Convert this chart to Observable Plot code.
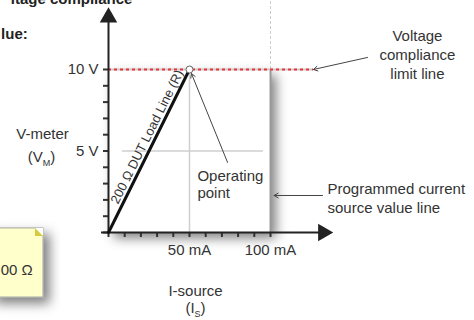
<!DOCTYPE html>
<html><head><meta charset="utf-8">
<script src="https://cdn.jsdelivr.net/npm/d3@7"></script>
<script src="https://cdn.jsdelivr.net/npm/@observablehq/plot@0.6"></script>
<style>
html,body{margin:0;padding:0;background:#fff;}
#chart{width:474px;height:320px;overflow:hidden;}
svg{display:block;overflow:hidden;}
</style></head><body><div id="chart"></div>
<script>
// ---- data ----
const currentTicks = [0, 10, 20, 30, 40, 50, 60, 70, 80, 90, 100];
const currentLabels = ["", "", "", "", "", "50 mA", "", "", "", "", "100 mA"];
const voltTicks = [0, 1, 2, 3, 4, 5, 6, 7, 8, 9, 10];
const voltLabels = ["", "", "", "", "", "5 V", "", "", "", "", "10 V"];
const loadCurrent = [0, 50];
const loadVoltage = [0, 10];
const operatingCurrent = [50];
const operatingVoltage = [10];
const complianceVoltage = [10];
const programmedCurrent = [100];
const referenceCurrent = [50];
const referenceVoltage = [5];
const loadLineLabel = ["200 Ω DUT Load Line (R)"];

// annotation anchors (in mA / V)
const annotations = [
  {text: "V-meter", x: -40.7, y: 6.01, anchor: "middle"},
  {text: "(V_M)", x: -41.4, y: 4.6, anchor: "middle"},
  {text: "I-source", x: 53.7, y: -3.58, anchor: "middle"},
  {text: "(I_S)", x: 53.7, y: -4.62, anchor: "middle"},
  {text: "Operating", x: 54.9, y: 3.44, anchor: "start"},
  {text: "point", x: 54.9, y: 2.39, anchor: "start"},
  {text: "Voltage", x: 190.7, y: 12.02, anchor: "middle"},
  {text: "compliance", x: 190.7, y: 10.86, anchor: "middle"},
  {text: "limit line", x: 190.7, y: 9.69, anchor: "middle"},
  {text: "Programmed current", x: 135.2, y: 2.67, anchor: "start"},
  {text: "source value line", x: 135.2, y: 1.5, anchor: "start"},
  {text: "00 Ω", x: -66.5, y: -2.33, anchor: "start"}
];
const boldNotes = [
  {text: "ltage compliance", x: 14.8, y: 13.99, anchor: "end", line: "bottom"},
  {text: "lue:", x: -66.3, y: 12.15, anchor: "start", line: "middle"}
];
const pointers = [
  {x1: 73.5, y1: 4.3, x2: 51.2, y2: 9.75},
  {x1: 159.9, y1: 10.74, x2: 126.5, y2: 10.0},
  {x1: 132.1, y1: 2.27, x2: 102.2, y2: 2.27}
];
const noteBox = [{x1: -73, x2: -40.1, y1: 0.25, y2: -3.99}];
const noteFold = [
  {x: -45.1, top: 0.25, bottom: 0.25},
  {x: -40.1, top: 0.25, bottom: -0.25}
];
const axisEnds = {xMin: -4.3, xMax: 132.5, yMax: 13.2};

// ---- chart ----
const ink = "#333";
const textMarks = (rows, extra) => ["start", "middle", "end"].map(a =>
  Plot.text(rows.filter(d => d.anchor === a), {x: "x", y: "y", text: "text", textAnchor: a, ...extra}));

const chart = Plot.plot({
  width: 474, height: 320,
  marginLeft: 108, marginRight: 204, marginTop: 69, marginBottom: 88,
  x: {domain: [0, 100]},
  y: {domain: [0, 10]},
  style: {fontFamily: "'Liberation Sans', Arial, sans-serif", fontSize: "15px", color: ink, background: "#fff"},
  marks: [
    // plot background with shadow
    Plot.rect([{x1: 0, x2: 100, y1: 0, y2: 10}], {x1: "x1", x2: "x2", y1: "y1", y2: "y2", fill: "#fff"}),
    // note box
    Plot.rect(noteBox, {x1: "x1", x2: "x2", y1: "y1", y2: "y2", fill: "#ffffcc", stroke: "#a0a0a0", strokeWidth: 1}),
    Plot.areaY(noteFold, {x: "x", y1: "top", y2: "bottom", fill: "#fff"}),
    Plot.areaY(noteFold, {x: "x", y1: "bottom", y2: d => -0.25, fill: "#d4cc3c"}),
    // guide lines
    Plot.ruleX(referenceCurrent, {x: d => d, y1: 0, y2: complianceVoltage[0], stroke: "#cfcfcf", strokeWidth: 1.5}),
    Plot.ruleY(referenceVoltage, {y: d => d, x1: 8.6, x2: 95.7, stroke: "#cfcfcf", strokeWidth: 1.5}),
    Plot.ruleX(programmedCurrent, {x: d => d, y1: complianceVoltage[0], y2: 14.3, stroke: "#cccccc", strokeWidth: 1, strokeDasharray: "3,2"}),
    Plot.ruleX(programmedCurrent, {x: d => d, y1: 0, y2: complianceVoltage[0], stroke: "#9a9a9a", strokeWidth: 2}),
    Plot.ruleY(complianceVoltage, {y: d => d, x1: 0, x2: 126.5, stroke: "#cccccc", strokeWidth: 2}),
    Plot.ruleY(complianceVoltage, {y: d => d, x1: 0, x2: 126.5, stroke: "#e8343a", strokeWidth: 2, strokeDasharray: "3,3"}),
    // axes
    Plot.axisX({ticks: currentTicks, tickFormat: d => currentLabels[currentTicks.indexOf(d)], tickSize: 5, tickPadding: 7, stroke: ink, strokeWidth: 2, fontSize: 15, label: null}),
    Plot.axisY({ticks: voltTicks, tickFormat: d => voltLabels[voltTicks.indexOf(d)], tickSize: 5, tickPadding: 5, stroke: ink, strokeWidth: 2, fontSize: 15, label: null}),
    Plot.ruleY([0], {x1: axisEnds.xMin, x2: axisEnds.xMax, stroke: "#222", strokeWidth: 2}),
    Plot.ruleX([0], {y1: 0, y2: axisEnds.yMax, stroke: "#222", strokeWidth: 2}),
    Plot.dot([{x: 0, y: axisEnds.yMax}], {x: "x", y: "y", symbol: "triangle", r: 6.5, fill: "#222", stroke: null}),
    Plot.dot([{x: axisEnds.xMax, y: 0}], {x: "x", y: "y", symbol: "triangle", r: 6.5, rotate: 90, fill: "#222", stroke: null}),
    // load line
    Plot.line(loadCurrent.map((c, i) => ({c, v: loadVoltage[i]})), {x: "c", y: "v", stroke: "#111", strokeWidth: 3}),
    Plot.text(loadLineLabel, {x: 23.8, y: 5.87, text: d => d, rotate: -63.6, fontSize: 13, fill: ink, textAnchor: "middle", lineAnchor: "middle"}),
    // pointers
    Plot.arrow(pointers, {x1: "x1", y1: "y1", x2: "x2", y2: "y2", stroke: "#444", strokeWidth: 1, headLength: 7}),
    // operating point
    Plot.dot(operatingCurrent, {x: d => d, y: (d, i) => operatingVoltage[i], r: 3.5, fill: "#fff", stroke: "#666", strokeWidth: 1}),
    // annotations
    ...textMarks(annotations, {fill: ink, fontSize: 15}),
    Plot.text(boldNotes.filter(d => d.line === "bottom"), {x: "x", y: "y", text: "text", textAnchor: "end", lineAnchor: "bottom", fill: "#222", fontSize: 15, fontWeight: "bold"}),
    Plot.text(boldNotes.filter(d => d.line === "middle"), {x: "x", y: "y", text: "text", textAnchor: "start", lineAnchor: "middle", fill: "#222", fontSize: 15, fontWeight: "bold"})
  ]
});

// subscripts
const svg = d3.select(chart);
svg.selectAll("text").each(function() {
  const t = this.textContent;
  const m = t.match(/^(.*)_(\w)(.*)$/);
  if (m) {
    const el = d3.select(this);
    el.text(null);
    el.append("tspan").text(m[1]);
    el.append("tspan").attr("font-size", "9px").attr("dy", "4").text(m[2]);
    el.append("tspan").attr("dy", "-4").text(m[3]);
  }
});
// shadows
const defs = svg.insert("defs", ":first-child");
const f = defs.append("filter").attr("id", "shadow").attr("x", "-20%").attr("y", "-20%").attr("width", "150%").attr("height", "150%");
f.append("feDropShadow").attr("dx", 6).attr("dy", 6).attr("stdDeviation", 6).attr("flood-color", "#000").attr("flood-opacity", 0.5);
svg.selectAll("g[aria-label='rect']").attr("filter", "url(#shadow)");
document.getElementById("chart").appendChild(chart);
</script>
</body></html>
